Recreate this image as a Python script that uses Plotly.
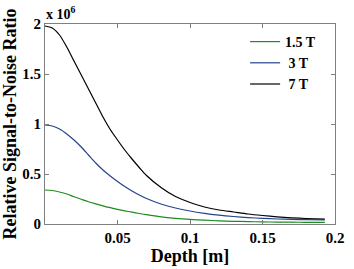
import plotly.graph_objects as go

depth = [0, 0.005, 0.01, 0.015, 0.02, 0.025, 0.03, 0.035, 0.04, 0.045, 0.05, 0.055,
         0.06, 0.065, 0.07, 0.08, 0.09, 0.1, 0.11, 0.12, 0.13, 0.14, 0.15, 0.16,
         0.17, 0.18, 0.193]
snr_15T = [0.34, 0.335, 0.32, 0.30, 0.272, 0.247, 0.223, 0.202, 0.182, 0.163, 0.147, 0.132,
           0.118, 0.105, 0.093, 0.072, 0.057, 0.046, 0.038, 0.032, 0.027, 0.024, 0.021,
           0.019, 0.018, 0.017, 0.016]
snr_3T = [0.99, 0.98, 0.95, 0.90, 0.84, 0.77, 0.69, 0.61, 0.54, 0.48, 0.425, 0.375,
          0.33, 0.29, 0.255, 0.20, 0.16, 0.13, 0.107, 0.089, 0.075, 0.064, 0.056,
          0.05, 0.046, 0.043, 0.04]
snr_7T = [1.98, 1.96, 1.89, 1.77, 1.63, 1.49, 1.35, 1.21, 1.07, 0.945, 0.84, 0.74,
          0.65, 0.565, 0.485, 0.365, 0.275, 0.215, 0.17, 0.14, 0.12, 0.10, 0.085,
          0.072, 0.062, 0.055, 0.049]
series_names = ["1.5 T", " 3 T", " 7 T"]
x_ticks = [0.05, 0.1, 0.15, 0.2]
x_ticklabels = ["<b>0.05</b>", "<b>0.1</b>", "<b>0.15</b>", "<b>0.2</b>"]
y_ticks = [0, 0.5, 1, 1.5, 2]
y_ticklabels = ["<b>0</b>", "<b>0.5</b>", "<b>1</b>", "<b>1.5</b>", "<b>2</b>"]

colors = ["#1e8c1e", "#24448c", "#000000"]
FF = "Liberation Serif"

fig = go.Figure()
for name, ys, c in zip(series_names, [snr_15T, snr_3T, snr_7T], colors):
    fig.add_trace(go.Scatter(x=depth, y=ys, mode="lines", name=f"<b>{name}</b>",
                             line=dict(color=c, width=1.2, shape="spline", smoothing=0.8)))

axis_common = dict(showgrid=False, zeroline=False, showline=True, linecolor="#808080",
                   linewidth=1, mirror="ticks", ticks="inside", ticklen=4,
                   tickcolor="#808080",
                   tickfont=dict(family=FF, size=15, color="#000000"))

fig.update_xaxes(range=[0, 0.2], tickvals=x_ticks, ticktext=x_ticklabels,
                 title=dict(text="<b>Depth [m]</b>", font=dict(family=FF, size=18, color="#000000"), standoff=0),
                 **axis_common)
fig.update_yaxes(range=[0, 2], tickvals=y_ticks, ticktext=y_ticklabels,
                 title=dict(text="<b>Relative Signal-to-Noise Ratio</b>", font=dict(family=FF, size=18, color="#000000"), standoff=0),
                 **axis_common)

fig.add_annotation(text="<b>x 10<sup>6</sup></b>", xref="paper", yref="paper", x=-0.005, y=1.0,
                   xanchor="left", yanchor="bottom", showarrow=False,
                   font=dict(family=FF, size=14, color="#000000"))

fig.update_layout(
    width=354, height=269,
    margin=dict(l=43, r=10, t=24, b=40),
    paper_bgcolor="white", plot_bgcolor="white",
    showlegend=True,
    legend=dict(x=0.69, y=0.99, xanchor="left", yanchor="top", bgcolor="rgba(0,0,0,0)",
                font=dict(family=FF, size=14, color="#000000"),
                itemwidth=30, tracegroupgap=0),
)

fig.write_html("out.html", config={"displayModeBar": False},
               post_script="document.body.style.margin='0';")
